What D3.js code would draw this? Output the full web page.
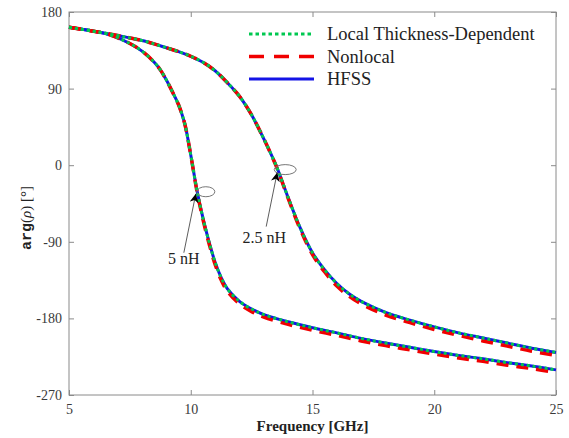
<!DOCTYPE html>
<html><head><meta charset="utf-8">
<script src="https://cdn.jsdelivr.net/npm/d3@7"></script>
<style>
html,body{margin:0;padding:0;background:#fff;}
svg{display:block;}
</style></head>
<body><div id="chart"></div>
<script>
// ---- data ----
const xTicks = [5, 10, 15, 20, 25];
const yTicks = [180, 90, 0, -90, -180, -270];

// 2.5 nH curves
const freqA = [5,6,7,7.5,8,8.5,9,9.5,10,10.5,11,11.5,12,12.5,13,13.5,14,14.5,15,15.5,16,16.5,17,18,19,20,21,22,23,24,25];
const hfssA = [162,157.5,152.5,149.5,146.5,142.5,138,133.5,128,121,111,97,81,59,31,0,-38,-74,-103,-123,-139,-151,-160,-173,-182,-190,-197,-203,-209,-215,-220];
const localA = [162,157.5,152.5,149.5,146.5,142.5,138,133.5,128,121,111,97,81,59,31,0,-38,-74,-103,-123,-139,-151,-160,-173,-182,-190,-197,-203,-209,-215,-220];
const nonlocalA = [162,157.5,152.5,149.5,146.5,142.5,138,133.5,128,121,111,97,81,59,31,-0.5,-39,-75.5,-105,-125.5,-142,-154,-163,-176,-185,-193,-200,-206.5,-212.5,-218.5,-223.5];

// 5 nH curves
const freqB = [5,6,6.7,7.5,8,8.5,8.75,9,9.25,9.5,9.75,10,10.25,10.5,10.75,11,11.25,11.5,12,12.5,13,14,15,16,17,18,19,20,21,22,23,24,25];
const hfssB = [162,157.5,153,143,134,121,112,100,86,71,49,12,-29,-62,-90,-114,-132,-145,-160,-169,-175.5,-184,-191,-197,-203.5,-209,-214,-219,-223.5,-227.5,-232,-236,-240.5];
const localB = [162,157.5,153,143,134,121,112,100,86,71,49,12,-29,-62,-90,-114,-132,-145,-160,-169,-175.5,-184,-191,-197,-203.5,-209,-214,-219,-223.5,-227.5,-232,-236,-240.5];
const nonlocalB = [162,157.5,153,143,134,121,112,100,86,71,49,12,-30,-63.5,-92,-116.5,-135,-148,-163,-172,-178.5,-187,-194,-200,-206.5,-212,-217,-222,-226.5,-230.5,-235,-239,-243.5];

const seriesNames = ["Local Thickness-Dependent", "Nonlocal", "HFSS"];
const annotations = [
  {label: "5 nH", f: 10.25, v: -30},
  {label: "2.5 nH", f: 13.55, v: -4}
];

// ---- layout ----
const W = 569, H = 438;
const M = {left: 69, right: 13, top: 12, bottom: 43};
const FONT = '"Liberation Serif", serif';
const svg = d3.select("#chart").append("svg").attr("width", W).attr("height", H)
  .attr("font-family", FONT);
const x = d3.scaleLinear().domain([5, 25]).range([M.left, W - M.right]);
const y = d3.scaleLinear().domain([-270, 180]).range([H - M.bottom, M.top]);

const axisColor = "#8a8a8a";
const textColor = "#3a3a3a";

// box
svg.append("rect").attr("x", x(5)).attr("y", y(180))
  .attr("width", x(25) - x(5)).attr("height", y(-270) - y(180))
  .attr("fill", "none").attr("stroke", axisColor).attr("stroke-width", 1);

// axes (inward ticks)
const fmt = d => String(d);
const gx = svg.append("g").attr("transform", `translate(0,${y(-270)})`)
  .call(d3.axisBottom(x).tickValues(xTicks).tickSize(-5).tickPadding(9).tickFormat(fmt));
const gxt = svg.append("g").attr("transform", `translate(0,${y(180)})`)
  .call(d3.axisTop(x).tickValues(xTicks).tickSize(-5).tickFormat(""));
const gy = svg.append("g").attr("transform", `translate(${x(5)},0)`)
  .call(d3.axisLeft(y).tickValues(yTicks).tickSize(-5).tickPadding(7).tickFormat(fmt));
const gyr = svg.append("g").attr("transform", `translate(${x(25)},0)`)
  .call(d3.axisRight(y).tickValues(yTicks).tickSize(-5).tickFormat(""));
[gx, gxt, gy, gyr].forEach(g => {
  g.attr("font-family", FONT).attr("font-size", 14);
  g.select(".domain").remove();
  g.selectAll(".tick line").attr("stroke", axisColor);
  g.selectAll(".tick text").attr("fill", textColor).attr("font-family", FONT);
});

// axis labels
svg.append("text").attr("x", (x(5) + x(25)) / 2).attr("y", 431)
  .attr("text-anchor", "middle").attr("fill", "#222").attr("font-family", FONT)
  .attr("font-size", 15).attr("font-weight", "bold").text("Frequency [GHz]");

const yl = svg.append("text").attr("transform", "translate(31,218) rotate(-90)")
  .attr("text-anchor", "middle").attr("fill", "#222").attr("font-family", FONT).attr("font-size", 15);
yl.append("tspan").attr("font-family", '"Liberation Mono", monospace').attr("font-weight", "bold").text("arg");
yl.append("tspan").text("(");
yl.append("tspan").attr("font-style", "italic").text("ρ");
yl.append("tspan").text(") [°]");

// curves
const line = d3.line().x(d => x(d[0])).y(d => y(d[1])).curve(d3.curveCatmullRom.alpha(0.5));
const zipf = (f, v) => f.map((d, i) => [d, v[i]]);

const styles = {
  HFSS: {color: "#1414e6", width: 3, dash: null},
  Nonlocal: {color: "#f00000", width: 3.5, dash: "12,8"},
  Local: {color: "#00c850", width: 3, dash: "3,3"}
};
const layers = [
  ["HFSS", hfssA, freqA], ["HFSS", hfssB, freqB],
  ["Nonlocal", nonlocalA, freqA], ["Nonlocal", nonlocalB, freqB],
  ["Local", localA, freqA], ["Local", localB, freqB]
];
const plot = svg.append("g");
layers.forEach(([k, v, f]) => {
  const s = styles[k];
  plot.append("path").datum(zipf(f, v)).attr("d", line)
    .attr("fill", "none").attr("stroke", s.color).attr("stroke-width", s.width)
    .attr("stroke-dasharray", s.dash);
});

// annotations: ellipse + arrow + label
const defs = svg.append("defs");
defs.append("marker").attr("id", "arr").attr("viewBox", "0 0 10 10")
  .attr("refX", 10).attr("refY", 5).attr("markerWidth", 9).attr("markerHeight", 9)
  .attr("markerUnits", "userSpaceOnUse").attr("orient", "auto")
  .append("path").attr("d", "M0,0 L10,5 L0,10 L3,5 Z").attr("fill", "#000");

const annLayout = [
  {ex: 9, ey: 1, rx: 9, ry: 5, tx: -13, ty: 73, sx: -13, sy: 62, ax: -1, ay: 3},
  {ex: 8, ey: 1, rx: 11, ry: 5, tx: -13, ty: 74, sx: -11, sy: 58, ax: 0, ay: 4}
];
annotations.forEach((a, i) => {
  const L = annLayout[i];
  const px = x(a.f), py = y(a.v);
  svg.append("ellipse").attr("cx", px + L.ex).attr("cy", py + L.ey)
    .attr("rx", L.rx).attr("ry", L.ry).attr("fill", "none")
    .attr("stroke", "#777").attr("stroke-width", 1);
  svg.append("line").attr("x1", px + L.sx).attr("y1", py + L.sy)
    .attr("x2", px + L.ax).attr("y2", py + L.ay)
    .attr("stroke", "#333").attr("stroke-width", 0.8).attr("marker-end", "url(#arr)");
  svg.append("text").attr("x", px + L.tx).attr("y", py + L.ty)
    .attr("text-anchor", "middle").attr("fill", "#222").attr("font-family", FONT)
    .attr("font-size", 16).text(a.label);
});

// legend
const leg = svg.append("g");
const legItems = [
  {name: seriesNames[0], s: styles.Local, dash: "3.5,3"},
  {name: seriesNames[1], s: styles.Nonlocal, dash: "15,10"},
  {name: seriesNames[2], s: styles.HFSS, dash: null}
];
legItems.forEach((it, i) => {
  const ly = 34 + i * 22.5;
  leg.append("line").attr("x1", 249).attr("x2", 314).attr("y1", ly).attr("y2", ly)
    .attr("stroke", it.s.color).attr("stroke-width", it.s.width).attr("stroke-dasharray", it.dash);
  leg.append("text").attr("x", 327).attr("y", ly + 6).attr("fill", "#222").attr("font-family", FONT)
    .attr("font-size", 18.5).text(it.name);
});
</script>
</body></html>
